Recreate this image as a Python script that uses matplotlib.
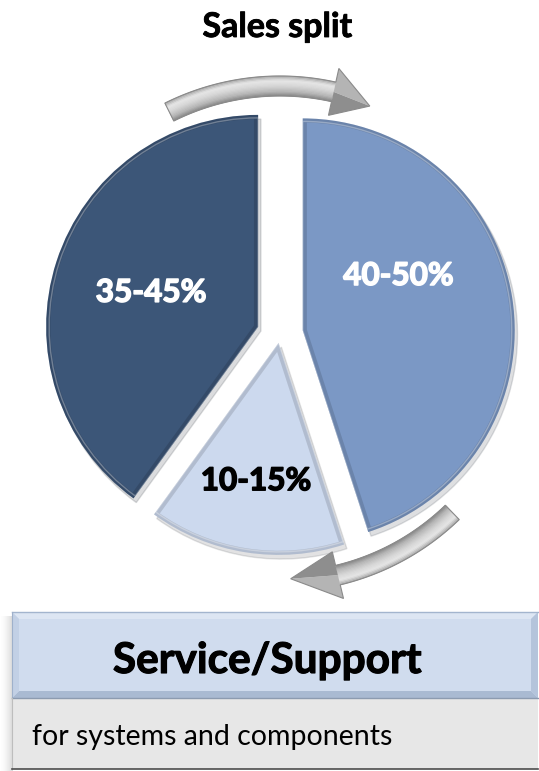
import numpy as np
import matplotlib
matplotlib.use("Agg")
import matplotlib.pyplot as plt
import matplotlib.patheffects as pe
from matplotlib.patches import Polygon, Rectangle, Wedge

# ---- data ---------------------------------------------------------------
title = "Sales split"
range_labels = ["40-50%", "10-15%", "35-45%"]
shares = [45, 15, 40]
slice_colors = ["#7B98C5", "#CCD9EE", "#3C5678"]
label_colors = ["white", "black", "white"]
box_title = "Service/Support"
box_text = "for systems and components"

W, H = 539, 771
FONT = "Lato"

fig = plt.figure(figsize=(W / 100, H / 100), dpi=100)
ax = fig.add_axes([0, 0, 1, 1])


def Y(py):
    """Convert a top-down pixel row into the axes' bottom-up y."""
    return H - py


def fit_text(x, y, s, width_px, heavy=0.0, **kw):
    t = ax.text(x, y, s, fontsize=20, family=FONT, **kw)
    r = fig.canvas.get_renderer()
    w = t.get_window_extent(renderer=r).width
    t.set_fontsize(20 * width_px / w)
    if heavy:
        t.set_path_effects([pe.withStroke(linewidth=heavy, foreground=t.get_color())])
    return t


# ---- pie ----------------------------------------------------------------
cx, cy, R = 280, Y(334), 212
wedges, _ = ax.pie(
    shares, colors=slice_colors, startangle=90, counterclock=False,
    explode=[23, 9, 23], radius=R, center=(cx, cy),
    wedgeprops=dict(edgecolor="none"),
    shadow=dict(ox=2, oy=-3, shade=0.7, alpha=0.15),
)

# bevelled rim on each slice
for w, c in zip(wedges, slice_colors):
    rim = Wedge(w.center, w.r, w.theta1, w.theta2, fill=False,
                edgecolor="black", lw=6, alpha=0.13)
    rim.set_clip_path(w)
    ax.add_patch(rim)
    hi = Wedge(w.center, w.r - 3, w.theta1, w.theta2, fill=False,
               edgecolor="white", lw=1.0, alpha=0.3)
    hi.set_clip_path(w)
    ax.add_patch(hi)

# slice labels: polar offsets from the pie centre (angle in deg, distance)
label_pos = [(22.5, 128), (-98.7, 158), (166.0, 133)]
for w, s, col, (ang, dist) in zip(wedges, range_labels, label_colors, label_pos):
    a = np.radians(ang)
    fit_text(cx + dist * np.cos(a), cy + dist * np.sin(a), s, 111, heavy=1.1,
             ha="center", va="baseline", color=col, fontweight="bold")


# ---- curved arrows ------------------------------------------------------
def gray_at(f):
    stops = [(0.0, 0.62), (0.25, 0.90), (0.5, 0.84), (0.8, 0.70), (1.0, 0.52)]
    xs, vs = zip(*stops)
    v = np.interp(f, xs, vs)
    return (v, v, v)


def curved_arrow(r, a_tail, a_base, a_tip, half_body, half_head, n=16):
    t = np.radians(np.linspace(a_tail, a_base, 80))
    for k in range(n):
        r0 = r + half_body - 2 * half_body * k / n
        r1 = r + half_body - 2 * half_body * (k + 1) / n
        col = gray_at((k + 0.5) / n)
        pts = np.concatenate([
            np.column_stack([cx + r0 * np.cos(t), cy + r0 * np.sin(t)]),
            np.column_stack([cx + r1 * np.cos(t[::-1]), cy + r1 * np.sin(t[::-1])]),
        ])
        ax.add_patch(Polygon(pts, closed=True, facecolor=col, edgecolor=col, lw=0.4))
    ab, at = np.radians(a_base), np.radians(a_tip)
    p_out = (cx + (r + half_head) * np.cos(ab), cy + (r + half_head) * np.sin(ab))
    p_in = (cx + (r - half_head) * np.cos(ab), cy + (r - half_head) * np.sin(ab))
    p_mid = (cx + r * np.cos(ab), cy + r * np.sin(ab))
    tip = (cx + (r - 3) * np.cos(at), cy + (r - 3) * np.sin(at))
    ax.add_patch(Polygon([p_out, p_mid, tip], facecolor="#B4B4B4", edgecolor="none"))
    ax.add_patch(Polygon([p_mid, p_in, tip], facecolor="#8E8E8E", edgecolor="none"))
    outer = np.column_stack([cx + (r + half_body) * np.cos(t), cy + (r + half_body) * np.sin(t)])
    inner = np.column_stack([cx + (r - half_body) * np.cos(t[::-1]), cy + (r - half_body) * np.sin(t[::-1])])
    outline = np.concatenate([outer, [p_out, tip, p_in], inner])
    ax.add_patch(Polygon(outline, closed=True, fill=False, edgecolor="#8A8A8A", lw=0.8))


curved_arrow(248, 116.5, 77.5, 68.5, 10, 24)
curved_arrow(248, -46.0, -76.5, -87.5, 10, 24)

# ---- description box ----------------------------------------------------
bx0, bx1 = 12, 538
h_top, h_bot, g_bot = Y(612), Y(698), Y(769)

# soft shadow along the left side
shade = np.zeros((1, 40, 4))
shade[..., :3] = 0.45
shade[0, :, 3] = np.linspace(0.0, 0.45, 40) ** 1.6
ax.imshow(shade, extent=(0, bx0 + 1, g_bot - 2, h_top - 4), aspect="auto",
          interpolation="bilinear", zorder=1)

# header with bevel
b = 7
ax.add_patch(Rectangle((bx0, h_bot), bx1 - bx0, h_top - h_bot,
                       facecolor="#D0DCEE", edgecolor="none", zorder=2))
ax.add_patch(Polygon([(bx0, h_top), (bx1, h_top), (bx1 - b, h_top - b), (bx0 + b, h_top - b)],
                     facecolor="#DDE6F3", edgecolor="none", zorder=3))
ax.add_patch(Polygon([(bx0, h_bot), (bx1, h_bot), (bx1 - b, h_bot + b), (bx0 + b, h_bot + b)],
                     facecolor="#A9BAD2", edgecolor="none", zorder=3))
ax.add_patch(Polygon([(bx0, h_top), (bx0, h_bot), (bx0 + b, h_bot + b), (bx0 + b, h_top - b)],
                     facecolor="#C2D0E5", edgecolor="none", zorder=3))
ax.add_patch(Polygon([(bx1, h_top), (bx1, h_bot), (bx1 - b, h_bot + b), (bx1 - b, h_top - b)],
                     facecolor="#B4C4DB", edgecolor="none", zorder=3))
ax.plot([bx0, bx1], [h_top, h_top], color="#A3B5CE", lw=1, zorder=4)
ax.plot([bx0, bx0], [h_top, h_bot], color="#9FB1CB", lw=0.8, zorder=4)

# lower gray row
ax.add_patch(Rectangle((bx0, g_bot), bx1 - bx0, h_bot - g_bot,
                       facecolor="#E7E7E7", edgecolor="none", zorder=2))
ax.plot([bx0, bx1], [h_bot, h_bot], color="#8C9BB0", lw=1.0, zorder=4)
ax.plot([bx0, bx0], [h_bot, g_bot], color="#BDBDBD", lw=0.8, zorder=4)
ax.plot([bx0, bx1], [g_bot, g_bot], color="#4D4D4D", lw=1.2, zorder=4)

fit_text(267.5, Y(673), box_title, 309, heavy=0.8, ha="center", va="baseline",
         color="black", fontweight="bold", zorder=5)
fit_text(32, Y(745), box_text, 360, ha="left", va="baseline",
         color="black", zorder=5)

# ---- title --------------------------------------------------------------
fit_text(277.5, Y(37), title, 150, heavy=0.6, ha="center", va="baseline",
         color="black", fontweight="bold")

ax.set_xlim(0, W)
ax.set_ylim(0, H)
ax.set_aspect("auto")
ax.axis("off")

fig.savefig("out.png", dpi=100, facecolor="white")
